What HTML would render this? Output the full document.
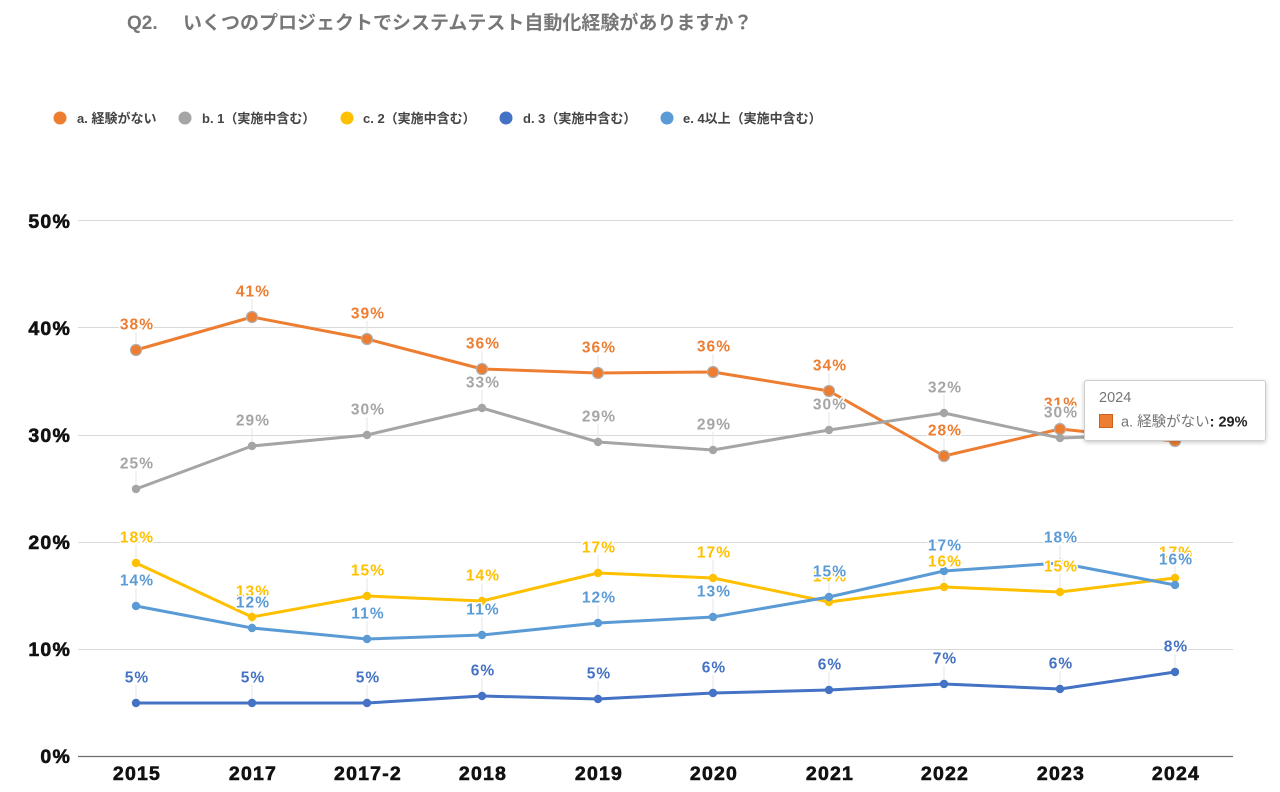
<!DOCTYPE html>
<html>
<head>
<meta charset="utf-8">
<style>
  html, body { margin: 0; padding: 0; background: #ffffff; }
  body { width: 1280px; height: 792px; overflow: hidden; }
  svg { display: block; }
  .ff { font-family: "Liberation Sans", "Noto Sans CJK JP", sans-serif; }
  .lbl text { font-family: "Liberation Sans", "Noto Sans CJK JP", sans-serif; font-weight: bold; font-size: 15.5px; letter-spacing: 1.1px; text-anchor: middle; paint-order: stroke; stroke: #ffffff; stroke-width: 3px; stroke-linejoin: round; }
  .ax text { font-family: "Liberation Sans", sans-serif; font-weight: bold; font-size: 19.5px; letter-spacing: 1.2px; fill: #111; stroke: #111; stroke-width: 0.6px; }
</style>
</head>
<body>
<svg width="1280" height="792" viewBox="0 0 1280 792" xmlns="http://www.w3.org/2000/svg">
  <defs>
    <filter id="sh" x="-10%" y="-20%" width="120%" height="150%">
      <feDropShadow dx="0" dy="1.5" stdDeviation="2" flood-color="#000" flood-opacity="0.22"/>
    </filter>
  </defs>

  <!-- Title -->
  <text class="ff" x="127" y="29" font-size="19" font-weight="bold" fill="#777777">Q2.</text>
  <text class="ff" x="183" y="29" font-size="19" font-weight="bold" fill="#777777">いくつのプロジェクトでシステムテスト自動化経験がありますか？</text>

  <!-- Legend -->
  <g class="ff" font-size="13" font-weight="bold" fill="#444444">
    <circle cx="60" cy="118" r="6.5" fill="#ED7D31"/>
    <text x="77" y="123">a. 経験がない</text>
    <circle cx="185" cy="118" r="6.5" fill="#A5A5A5"/>
    <text x="202" y="123">b. 1（実施中含む）</text>
    <circle cx="347" cy="118" r="6.5" fill="#FFC000"/>
    <text x="363" y="123">c. 2（実施中含む）</text>
    <circle cx="506" cy="118" r="6.5" fill="#4472C4"/>
    <text x="523" y="123">d. 3（実施中含む）</text>
    <circle cx="667" cy="118" r="6.5" fill="#5B9BD5"/>
    <text x="683" y="123">e. 4以上（実施中含む）</text>
  </g>

  <!-- Gridlines -->
  <g stroke="#d9d9d9" stroke-width="1">
    <line x1="78" y1="220.5" x2="1233" y2="220.5"/>
    <line x1="78" y1="327.5" x2="1233" y2="327.5"/>
    <line x1="78" y1="435.5" x2="1233" y2="435.5"/>
    <line x1="78" y1="542.5" x2="1233" y2="542.5"/>
    <line x1="78" y1="649.5" x2="1233" y2="649.5"/>
  </g>
  <line x1="78" y1="756.5" x2="1233" y2="756.5" stroke="#6e6e6e" stroke-width="1.2"/>

  <!-- Y axis labels -->
  <g class="ax" text-anchor="end">
    <text x="71" y="228">50%</text>
    <text x="71" y="335">40%</text>
    <text x="71" y="442">30%</text>
    <text x="71" y="549">20%</text>
    <text x="71" y="656">10%</text>
    <text x="71" y="763">0%</text>
  </g>

  <!-- X axis labels -->
  <g class="ax" text-anchor="middle">
    <text x="137" y="780">2015</text>
    <text x="253" y="780">2017</text>
    <text x="368" y="780">2017-2</text>
    <text x="483" y="780">2018</text>
    <text x="599" y="780">2019</text>
    <text x="714" y="780">2020</text>
    <text x="830" y="780">2021</text>
    <text x="945" y="780">2022</text>
    <text x="1061" y="780">2023</text>
    <text x="1176" y="780">2024</text>
  </g>

  <!-- Leader lines -->
  <g stroke="#e6e6e6" stroke-width="1">
    <line x1="136" y1="332" x2="136" y2="350"/><line x1="252" y1="299" x2="252" y2="317"/><line x1="367" y1="321" x2="367" y2="339"/><line x1="482" y1="351" x2="482" y2="369"/><line x1="598" y1="355" x2="598" y2="373"/><line x1="713" y1="354" x2="713" y2="372"/><line x1="829" y1="373" x2="829" y2="391"/><line x1="944" y1="438" x2="944" y2="456"/><line x1="1060" y1="411" x2="1060" y2="429"/>
    <line x1="136" y1="471" x2="136" y2="489"/><line x1="252" y1="428" x2="252" y2="446"/><line x1="367" y1="417" x2="367" y2="435"/><line x1="482" y1="390" x2="482" y2="408"/><line x1="598" y1="424" x2="598" y2="442"/><line x1="713" y1="432" x2="713" y2="450"/><line x1="829" y1="412" x2="829" y2="430"/><line x1="944" y1="395" x2="944" y2="413"/><line x1="1060" y1="420" x2="1060" y2="438"/>
    <line x1="136" y1="545" x2="136" y2="563"/><line x1="252" y1="599" x2="252" y2="617"/><line x1="367" y1="578" x2="367" y2="596"/><line x1="482" y1="583" x2="482" y2="601"/><line x1="598" y1="555" x2="598" y2="573"/><line x1="713" y1="560" x2="713" y2="578"/><line x1="829" y1="584" x2="829" y2="602"/><line x1="944" y1="569" x2="944" y2="587"/><line x1="1060" y1="574" x2="1060" y2="592"/><line x1="1175" y1="560" x2="1175" y2="578"/>
    <line x1="136" y1="685" x2="136" y2="703"/><line x1="252" y1="685" x2="252" y2="703"/><line x1="367" y1="685" x2="367" y2="703"/><line x1="482" y1="678" x2="482" y2="696"/><line x1="598" y1="681" x2="598" y2="699"/><line x1="713" y1="675" x2="713" y2="693"/><line x1="829" y1="672" x2="829" y2="690"/><line x1="944" y1="666" x2="944" y2="684"/><line x1="1060" y1="671" x2="1060" y2="689"/><line x1="1175" y1="654" x2="1175" y2="672"/>
    <line x1="136" y1="588" x2="136" y2="606"/><line x1="252" y1="610" x2="252" y2="628"/><line x1="367" y1="621" x2="367" y2="639"/><line x1="482" y1="617" x2="482" y2="635"/><line x1="598" y1="605" x2="598" y2="623"/><line x1="713" y1="599" x2="713" y2="617"/><line x1="829" y1="579" x2="829" y2="597"/><line x1="944" y1="553" x2="944" y2="571"/><line x1="1060" y1="545" x2="1060" y2="563"/><line x1="1175" y1="567" x2="1175" y2="585"/>
  </g>

  <!-- Series lines -->
  <g fill="none" stroke-width="3" stroke-linejoin="round" stroke-linecap="round">
    <polyline stroke="#ED7D31" points="136,350 252,317 367,339 482,369 598,373 713,372 829,391 944,456 1060,429 1175,441"/>
    <polyline stroke="#A5A5A5" points="136,489 252,446 367,435 482,408 598,442 713,450 829,430 944,413 1060,438 1175,434"/>
    <polyline stroke="#FFC000" points="136,563 252,617 367,596 482,601 598,573 713,578 829,602 944,587 1060,592 1175,578"/>
    <polyline stroke="#4472C4" points="136,703 252,703 367,703 482,696 598,699 713,693 829,690 944,684 1060,689 1175,672"/>
    <polyline stroke="#5B9BD5" points="136,606 252,628 367,639 482,635 598,623 713,617 829,597 944,571 1060,563 1175,585"/>
  </g>

  <!-- Markers -->
  <g fill="#ED7D31" stroke="#b0b0b0" stroke-width="1.2">
    <circle cx="136" cy="350" r="5.5"/><circle cx="252" cy="317" r="5.5"/><circle cx="367" cy="339" r="5.5"/><circle cx="482" cy="369" r="5.5"/><circle cx="598" cy="373" r="5.5"/><circle cx="713" cy="372" r="5.5"/><circle cx="829" cy="391" r="5.5"/><circle cx="944" cy="456" r="5.5"/><circle cx="1060" cy="429" r="5.5"/><circle cx="1175" cy="441" r="5.5"/>
  </g>
  <g fill="#A5A5A5">
    <circle cx="136" cy="489" r="4.2"/><circle cx="252" cy="446" r="4.2"/><circle cx="367" cy="435" r="4.2"/><circle cx="482" cy="408" r="4.2"/><circle cx="598" cy="442" r="4.2"/><circle cx="713" cy="450" r="4.2"/><circle cx="829" cy="430" r="4.2"/><circle cx="944" cy="413" r="4.2"/><circle cx="1060" cy="438" r="4.2"/><circle cx="1175" cy="434" r="4.2"/>
  </g>
  <g fill="#FFC000">
    <circle cx="136" cy="563" r="4.2"/><circle cx="252" cy="617" r="4.2"/><circle cx="367" cy="596" r="4.2"/><circle cx="482" cy="601" r="4.2"/><circle cx="598" cy="573" r="4.2"/><circle cx="713" cy="578" r="4.2"/><circle cx="829" cy="602" r="4.2"/><circle cx="944" cy="587" r="4.2"/><circle cx="1060" cy="592" r="4.2"/><circle cx="1175" cy="578" r="4.2"/>
  </g>
  <g fill="#4472C4">
    <circle cx="136" cy="703" r="4.2"/><circle cx="252" cy="703" r="4.2"/><circle cx="367" cy="703" r="4.2"/><circle cx="482" cy="696" r="4.2"/><circle cx="598" cy="699" r="4.2"/><circle cx="713" cy="693" r="4.2"/><circle cx="829" cy="690" r="4.2"/><circle cx="944" cy="684" r="4.2"/><circle cx="1060" cy="689" r="4.2"/><circle cx="1175" cy="672" r="4.2"/>
  </g>
  <g fill="#5B9BD5">
    <circle cx="136" cy="606" r="4.2"/><circle cx="252" cy="628" r="4.2"/><circle cx="367" cy="639" r="4.2"/><circle cx="482" cy="635" r="4.2"/><circle cx="598" cy="623" r="4.2"/><circle cx="713" cy="617" r="4.2"/><circle cx="829" cy="597" r="4.2"/><circle cx="944" cy="571" r="4.2"/><circle cx="1060" cy="563" r="4.2"/><circle cx="1175" cy="585" r="4.2"/>
  </g>

  <!-- Data labels -->
  <g class="lbl" fill="#ED7D31">
    <text x="137" y="329.5">38%</text><text x="253" y="296.5">41%</text><text x="368" y="318.5">39%</text><text x="483" y="348.5">36%</text><text x="599" y="352.5">36%</text><text x="714" y="351.5">36%</text><text x="830" y="370.5">34%</text><text x="945" y="435.5">28%</text><text x="1061" y="408.5">31%</text><text x="1176" y="420.5">29%</text>
  </g>
  <g class="lbl" fill="#A5A5A5">
    <text x="137" y="468.5">25%</text><text x="253" y="425.5">29%</text><text x="368" y="414.5">30%</text><text x="483" y="387.5">33%</text><text x="599" y="421.5">29%</text><text x="714" y="429.5">29%</text><text x="830" y="409.5">30%</text><text x="945" y="392.5">32%</text><text x="1061" y="417.5">30%</text><text x="1176" y="413.5">30%</text>
  </g>
  <g class="lbl" fill="#FFC000">
    <text x="137" y="542.5">18%</text><text x="253" y="596.5">13%</text><text x="368" y="575.5">15%</text><text x="483" y="580.5">14%</text><text x="599" y="552.5">17%</text><text x="714" y="557.5">17%</text><text x="830" y="581.5">14%</text><text x="945" y="566.5">16%</text><text x="1061" y="571.5">15%</text><text x="1176" y="557.5">17%</text>
  </g>
  <g class="lbl" fill="#4472C4">
    <text x="137" y="682.5">5%</text><text x="253" y="682.5">5%</text><text x="368" y="682.5">5%</text><text x="483" y="675.5">6%</text><text x="599" y="678.5">5%</text><text x="714" y="672.5">6%</text><text x="830" y="669.5">6%</text><text x="945" y="663.5">7%</text><text x="1061" y="668.5">6%</text><text x="1176" y="651.5">8%</text>
  </g>
  <g class="lbl" fill="#5B9BD5">
    <text x="137" y="585.5">14%</text><text x="253" y="607.5">12%</text><text x="368" y="618.5">11%</text><text x="483" y="614.5">11%</text><text x="599" y="602.5">12%</text><text x="714" y="596.5">13%</text><text x="830" y="576.5">15%</text><text x="945" y="550.5">17%</text><text x="1061" y="542.5">18%</text><text x="1176" y="564.5">16%</text>
  </g>

  <!-- Tooltip -->
  <rect x="1084.5" y="380.5" width="181" height="60" rx="2" fill="#ffffff" stroke="#cfcfcf" stroke-width="1" filter="url(#sh)"/>
  <text class="ff" x="1099" y="402" font-size="14.5" fill="#757575">2024</text>
  <rect x="1099.5" y="414.5" width="13" height="13" fill="#ED7D31" stroke="#c96420" stroke-width="1"/>
  <text class="ff" x="1121" y="426.5" font-size="14.5" fill="#757575">a. 経験がない<tspan font-weight="bold" fill="#222222">: 29%</tspan></text>
</svg>
</body>
</html>
